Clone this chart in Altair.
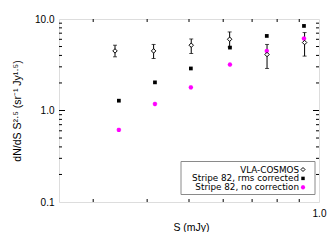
import altair as alt
import pandas as pd

# VLA-COSMOS (flux, value, error low, error high)
vla_s = [0.337, 0.414, 0.506, 0.621, 0.758, 0.926]
vla_n = [4.48, 4.48, 5.17, 6.01, 4.09, 5.53]
vla_lo = [3.86, 3.70, 4.20, 4.95, 2.88, 3.93]
vla_hi = [5.17, 5.27, 6.05, 7.22, 5.27, 7.11]

# Stripe 82
s82_s = [0.344, 0.417, 0.505, 0.622, 0.757, 0.923]
s82_rms = [1.28, 2.03, 2.88, 4.87, 6.53, 8.40]
s82_raw = [0.614, 1.18, 1.79, 3.18, 4.48, 6.12]

y_ticks = [0.1, 1.0, 10.0]
x_ticks = [1.0]
y_minor = [0.2, 0.3, 0.4, 0.5, 0.6, 0.7, 0.8, 0.9, 2, 3, 4, 5, 6, 7, 8, 9]
y_major = [1.0]
x_minor = [0.3, 0.4, 0.5, 0.6, 0.7, 0.8, 0.9]
legend_labels = ["VLA-COSMOS", "Stripe 82, rms corrected", "Stripe 82, no correction"]

W, H = 260, 183
FONT = "Liberation Sans"
LFONT = "DejaVu Sans"
MAG = "#ff00ff"
ASTER = "M-1,0L1,0M0,-1L0,1M-0.7,-0.7L0.7,0.7M-0.7,0.7L0.7,-0.7"

xs = alt.Scale(type="log", domain=[0.25, 1.0], nice=False)
ys = alt.Scale(type="log", domain=[0.1, 10.0], nice=False)

xaxis = alt.Axis(title="S (mJy)", values=x_ticks, format=".1f", ticks=False, domain=False,
                 grid=False, labelPadding=6, labelFontSize=10, labelFont=FONT, labelColor="black",
                 titleFont=FONT, titleFontSize=10.5, titleFontWeight="normal", titleColor="black",
                 titleX=132, titleY=25, titleBaseline="middle", titleAlign="center", labelFlush=False)
yaxis = alt.Axis(title="dN/dS S²·⁵ (sr⁻¹ Jy¹·⁵)", values=y_ticks, format=".1f", ticks=False,
                 domain=False, grid=False, labelPadding=5, labelFontSize=10, labelFont=FONT,
                 labelColor="black", titleFont=FONT, titleFontSize=10.5, titleFontWeight="normal",
                 titleColor="black", titleX=-42, titleY=91.5, titleAngle=270, titleAlign="center",
                 titleBaseline="middle", labelFlush=False)


def X(f):
    return alt.X(f"{f}:Q", scale=xs, axis=xaxis)


def Y(f):
    return alt.Y(f"{f}:Q", scale=ys, axis=yaxis)


vla = pd.DataFrame({"s": vla_s, "n": vla_n, "lo": vla_lo, "hi": vla_hi})
s82 = pd.DataFrame({"s": s82_s, "rms": s82_rms, "raw": s82_raw})
ymin = pd.DataFrame({"v": y_minor})
ymaj = pd.DataFrame({"v": y_major})
xmin = pd.DataFrame({"v": x_minor})

layers = []
# inward ticks
layers.append(alt.Chart(ymin).mark_rule(color="black", strokeWidth=1).encode(
    y=Y("v"), x=alt.value(0), x2=alt.value(3)))
layers.append(alt.Chart(ymin).mark_rule(color="black", strokeWidth=1).encode(
    y=Y("v"), x=alt.value(W), x2=alt.value(W - 3)))
layers.append(alt.Chart(ymaj).mark_rule(color="black", strokeWidth=1).encode(
    y=Y("v"), x=alt.value(0), x2=alt.value(6)))
layers.append(alt.Chart(ymaj).mark_rule(color="black", strokeWidth=1).encode(
    y=Y("v"), x=alt.value(W), x2=alt.value(W - 6)))
layers.append(alt.Chart(xmin).mark_rule(color="black", strokeWidth=1).encode(
    x=X("v"), y=alt.value(H), y2=alt.value(H - 3)))
layers.append(alt.Chart(xmin).mark_rule(color="black", strokeWidth=1).encode(
    x=X("v"), y=alt.value(0), y2=alt.value(3)))

# error bars
layers.append(alt.Chart(vla).mark_rule(color="black", strokeWidth=1).encode(
    x=X("s"), y=Y("lo"), y2="hi"))
layers.append(alt.Chart(vla).mark_tick(orient="horizontal", size=4, thickness=1, color="black").encode(
    x=X("s"), y=Y("lo")))
layers.append(alt.Chart(vla).mark_tick(orient="horizontal", size=4, thickness=1, color="black").encode(
    x=X("s"), y=Y("hi")))
# points
layers.append(alt.Chart(s82).mark_point(shape="square", filled=True, size=14, color="black", opacity=1).encode(
    x=X("s"), y=Y("rms")))
layers.append(alt.Chart(s82).mark_point(shape=ASTER, filled=False, size=20, color=MAG, strokeWidth=1.3,
                                        opacity=1).encode(x=X("s"), y=Y("raw")))
layers.append(alt.Chart(vla).mark_point(shape="diamond", filled=True, size=20, fill="white", stroke="black",
                                        strokeWidth=1, opacity=1).encode(x=X("s"), y=Y("n")))

# legend box
layers.append(alt.Chart(ymaj).mark_rect(fill="white", stroke="#8a8a8a", strokeWidth=1).encode(
    x=alt.value(122), x2=alt.value(256), y=alt.value(142.5), y2=alt.value(175.5)))
rows = [150.5, 159.4, 168.3]
for lab, ry in zip(legend_labels, rows):
    layers.append(alt.Chart(ymaj).mark_text(text=lab, align="right", baseline="middle", font=LFONT,
                                            fontSize=8.8, color="black").encode(
        x=alt.value(240), y=alt.value(ry)))
layers.append(alt.Chart(ymaj).mark_point(shape="diamond", filled=True, size=16, fill="white", stroke="black",
                                         strokeWidth=1, opacity=1).encode(x=alt.value(244), y=alt.value(rows[0])))
layers.append(alt.Chart(ymaj).mark_point(shape="square", filled=True, size=12, color="black", opacity=1).encode(
    x=alt.value(244), y=alt.value(rows[1])))
layers.append(alt.Chart(ymaj).mark_point(shape=ASTER, filled=False, size=18, color=MAG, strokeWidth=1.3,
                                         opacity=1).encode(x=alt.value(244), y=alt.value(rows[2])))

chart = alt.layer(*layers).properties(
    width=W, height=H,
    autosize=alt.AutoSizeParams(type="none"),
    padding={"left": 51, "top": 11, "right": 9, "bottom": 30},
).configure_view(stroke="black", strokeWidth=1).configure(background="white")

chart.save("out.html", embed_options={"renderer": "svg", "actions": False})
